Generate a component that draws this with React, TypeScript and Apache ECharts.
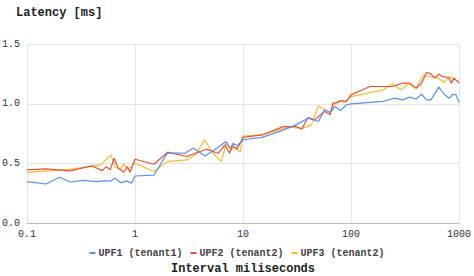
import React, { useEffect, useRef } from "react";
import * as echarts from "echarts";

const upf1X = [0.1, 0.15, 0.2, 0.25, 0.33, 0.44, 0.54, 0.59, 0.65, 0.74, 0.83, 0.93, 1.0, 1.5, 2, 2.9, 3.46, 4.45, 5.9, 6.95, 7.6, 8.1, 8.85, 10, 15, 23.5, 31, 40, 50, 57, 64, 71, 80, 90, 100, 200, 250, 300, 350, 400, 450, 500, 550, 650, 730, 810, 880, 940, 1000];
const upf1Y = [0.35, 0.33, 0.387, 0.347, 0.36, 0.35, 0.358, 0.353, 0.378, 0.34, 0.356, 0.336, 0.397, 0.405, 0.59, 0.587, 0.63, 0.565, 0.637, 0.685, 0.63, 0.67, 0.65, 0.70, 0.72, 0.78, 0.824, 0.88, 0.852, 0.95, 0.927, 0.977, 0.944, 0.99, 1.0, 1.02, 1.047, 1.033, 1.056, 1.04, 1.08, 1.033, 1.033, 1.14, 1.08, 1.047, 1.08, 1.075, 1.01];

const upf2X = [0.1, 0.15, 0.25, 0.4, 0.5, 0.54, 0.59, 0.64, 0.7, 0.79, 0.85, 0.9, 1.0, 1.5, 2, 3, 4.6, 5.9, 6.8, 7.5, 8, 8.8, 10, 15, 23.5, 31, 35, 40, 46, 51, 57, 64, 68, 75, 81, 91, 100, 150, 240, 300, 350, 400, 450, 500, 550, 600, 650, 700, 800, 850, 900, 1000];
const upf2Y = [0.448, 0.456, 0.44, 0.481, 0.442, 0.475, 0.448, 0.545, 0.462, 0.428, 0.475, 0.428, 0.537, 0.495, 0.596, 0.56, 0.62, 0.587, 0.657, 0.587, 0.649, 0.62, 0.72, 0.74, 0.81, 0.81, 0.79, 0.885, 0.866, 0.9, 0.936, 0.908, 1.006, 1.01, 1.028, 1.02, 1.075, 1.145, 1.145, 1.173, 1.173, 1.13, 1.173, 1.262, 1.25, 1.215, 1.25, 1.228, 1.22, 1.173, 1.215, 1.173];

const upf3X = [0.1, 0.25, 0.48, 0.6, 0.65, 0.73, 0.79, 0.85, 0.93, 1.0, 1.5, 2, 3, 3.7, 4.4, 5.3, 6.3, 7, 7.7, 8.4, 9.4, 10, 15, 27, 30, 36, 43, 50, 57, 64, 71, 79, 87, 100, 200, 240, 290, 340, 400, 470, 530, 620, 730, 810, 900, 1000];
const upf3Y = [0.428, 0.453, 0.49, 0.573, 0.475, 0.453, 0.498, 0.453, 0.475, 0.504, 0.434, 0.517, 0.531, 0.58, 0.7, 0.587, 0.517, 0.67, 0.615, 0.64, 0.596, 0.73, 0.74, 0.81, 0.8, 0.797, 0.824, 0.983, 0.95, 0.93, 1.005, 1.028, 1.01, 1.06, 1.117, 1.165, 1.117, 1.167, 1.13, 1.243, 1.228, 1.223, 1.178, 1.228, 1.206, 1.187];

const seriesNames = ["UPF1 (tenant1)", "UPF2 (tenant2)", "UPF3 (tenant2)"];
const colors = ["#5b8ff0", "#e5533d", "#f9bb2d"];

const FONT = "'Liberation Mono', 'DejaVu Sans Mono', monospace";

const pair = (xs: number[], ys: number[]) => xs.map((x, i) => [x, ys[i]]);

export default function App() {
  const ref = useRef<HTMLDivElement>(null);
  useEffect(() => {
    if (!ref.current) return;
    const chart = echarts.init(ref.current, undefined, { renderer: "svg" });
    const data = [pair(upf1X, upf1Y), pair(upf2X, upf2Y), pair(upf3X, upf3Y)];
    chart.setOption({
      animation: false,
      color: colors,
      title: {
        text: "Latency [ms]",
        left: 11,
        top: 2,
        textStyle: { fontFamily: FONT, fontSize: 12, fontWeight: "bold", color: "#222" },
      },
      grid: { left: 27, right: 15, top: 44, bottom: 52.5, containLabel: false, outerBoundsMode: "none" },
      legend: {
        top: 248,
        left: "center",
        padding: 0,
        icon: "rect",
        itemWidth: 6,
        itemHeight: 2,
        itemGap: 8,
        textStyle: { fontFamily: FONT, fontSize: 10, color: "#444", fontWeight: "bold", padding: [0, 0, 0, -2] },
        data: seriesNames,
      },
      xAxis: {
        type: "log",
        logBase: 10,
        min: 0.1,
        max: 1000,
        name: "Interval miliseconds",
        nameLocation: "middle",
        nameGap: 39,
        nameTextStyle: { fontFamily: FONT, fontSize: 12, fontWeight: "bold", color: "#222" },
        axisLine: { lineStyle: { color: "#bbb" } },
        axisTick: { show: false },
        axisLabel: {
          fontFamily: FONT,
          fontSize: 10,
          color: "#333",
          margin: 6,
          formatter: (v: number) => {
            const r = Math.round(v * 10) / 10;
            return r < 1 ? r.toFixed(1) : String(Math.round(r));
          },
        },
        splitLine: { show: true, lineStyle: { color: "#e6e6e6" } },
      },
      yAxis: {
        type: "value",
        min: 0,
        max: 1.5,
        interval: 0.5,
        axisLine: { show: false },
        axisTick: { show: false },
        axisLabel: {
          fontFamily: FONT,
          fontSize: 10,
          color: "#333",
          margin: 7,
          formatter: (v: number) => v.toFixed(1),
        },
        splitLine: { lineStyle: { color: "#e6e6e6" } },
      },
      series: seriesNames.map((n, i) => ({
        name: n,
        type: "line",
        data: data[i],
        showSymbol: false,
        symbol: "none",
        lineStyle: { width: 1.2, color: colors[i] },
        z: 3 - i,
      })),
    });
    return () => chart.dispose();
  }, []);
  return (
    <div
      ref={ref}
      style={{ position: "absolute", left: 0, top: 0, width: 474, height: 276 }}
    />
  );
}
